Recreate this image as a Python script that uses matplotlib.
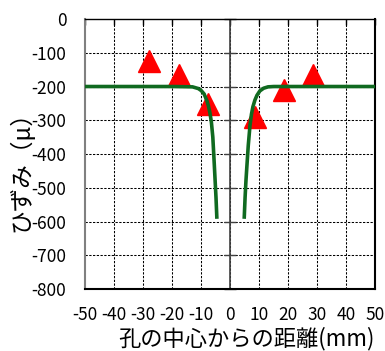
import matplotlib
matplotlib.use('Agg')
import matplotlib.pyplot as plt
import numpy as np

plt.rcParams['font.family'] = ['Liberation Sans Narrow', 'Noto Sans CJK JP', 'DejaVu Sans']
plt.rcParams['axes.unicode_minus'] = False

# 測定値（▲）
meas_x = [-28.1, -17.8, -7.8, 8.6, 18.4, 28.6]
meas_y = [-124, -166, -252, -290, -209, -166]

# 理論曲線 左側（孔より左）
left_x = [-50, -20, -13, -11, -10, -9, -8, -7.5, -7, -6.5, -6, -5.5, -5.2, -4.9, -4.6]
left_y = [-200, -200, -201, -206, -212, -222, -243, -258, -278, -305, -350, -430, -480, -530, -592]
# 理論曲線 右側（孔より右）
right_x = [4.8, 5.1, 5.4, 5.7, 6.2, 6.8, 7.3, 7.8, 8.5, 9.2, 10.2, 11.5, 13, 15, 50]
right_y = [-592, -530, -480, -440, -375, -315, -282, -260, -240, -226, -213, -205, -201, -200, -200]

xticks = list(range(-50, 51, 10))
yticks = list(range(-800, 1, 100))

fig = plt.figure(figsize=(3.85, 3.51), dpi=100, facecolor='white')
ax = fig.add_axes([0.2208, 0.1766, 0.7545, 0.7692])

ax.set_xlim(-50, 50)
ax.set_ylim(-800, 0)
ax.set_xticks(xticks)
ax.set_yticks(yticks)
ax.set_xticklabels([str(v) for v in xticks], fontsize=12.5)
ax.set_yticklabels([str(v) for v in yticks], fontsize=12.5)

# 破線グリッド
for v in xticks[1:-1]:
    ax.axvline(v, color='black', lw=0.75, linestyle=(0, (2.2, 1.4)), zorder=1)
for v in yticks[1:-1]:
    ax.axhline(v, color='black', lw=0.75, linestyle=(0, (2.2, 1.4)), zorder=1)

# x=0 の縦軸と目盛り
ax.axvline(0, color='#404040', lw=1.2, zorder=2)
ax.plot(np.zeros(len(yticks)), yticks, linestyle='none', marker='_', ms=8,
        mew=1.0, color='#404040', zorder=2, clip_on=False)

ax.plot(meas_x, meas_y, linestyle='none', marker='^', ms=16, color='#ff0000',
        mec='#ff0000', zorder=3)
ax.plot(left_x, left_y, color='#106a20', lw=2.6, solid_capstyle='butt', zorder=4)
ax.plot(right_x, right_y, color='#106a20', lw=2.6, solid_capstyle='butt', zorder=4)

ax.spines['left'].set_color('#808080')
ax.spines['left'].set_linewidth(1.5)
ax.spines['right'].set_color('black')
ax.spines['right'].set_linewidth(1.5)
ax.spines['bottom'].set_color('black')
ax.spines['bottom'].set_linewidth(1.5)
ax.spines['top'].set_color('black')
ax.spines['top'].set_linewidth(1.0)

ax.tick_params(axis='x', bottom=False, top=True, direction='in', length=4,
               width=1.0, pad=12, colors='black')
ax.tick_params(axis='y', left=False, pad=10, colors='black')

ax.set_xlabel('孔の中心からの距離(mm)', fontsize=16, va='center',
              family=['Noto Sans CJK JP', 'DejaVu Sans'])
ax.xaxis.set_label_coords(0.555, -0.182)
ax.set_ylabel('ひずみ（μ）', fontsize=17, va='center',
              family=['Noto Sans CJK JP', 'DejaVu Sans'])
ax.yaxis.set_label_coords(-0.22, 0.459)

fig.savefig('out.png', dpi=100, facecolor='white')
